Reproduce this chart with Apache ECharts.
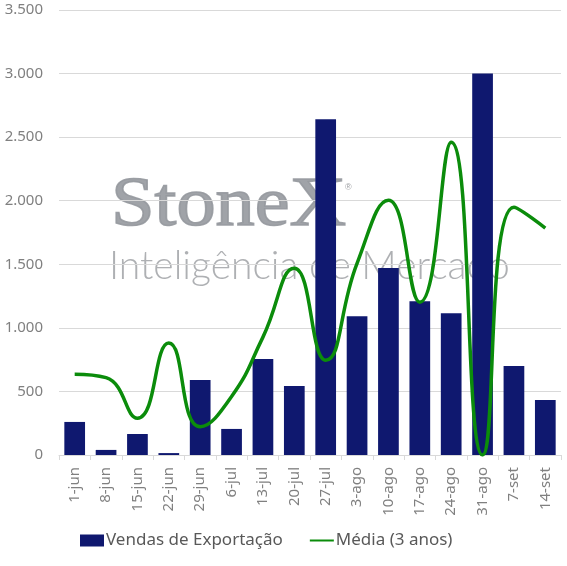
<!DOCTYPE html>
<html>
<head>
<meta charset="utf-8">
<script src="https://cdn.jsdelivr.net/npm/echarts@6/dist/echarts.min.js"></script>
<style>
  html, body { margin: 0; padding: 0; background: #fff; }
  #chart { width: 567px; height: 566px; }
</style>
</head>
<body>
<div id="chart"></div>
<script>
const categories = ["1-jun", "8-jun", "15-jun", "22-jun", "29-jun", "6-jul", "13-jul", "20-jul",
  "27-jul", "3-ago", "10-ago", "17-ago", "24-ago", "31-ago", "7-set", "14-set"];
const vendas = [260, 40, 165, 15, 590, 205, 755, 542, 2640, 1092, 1470, 1210, 1115, 3000, 700, 432];
const media = [636, 608, 290, 880, 222, 460, 927, 1469, 746, 1508, 2003, 1202, 2459, 0, 1948, 1785];
const yTicks = [0, 500, 1000, 1500, 2000, 2500, 3000, 3500];

const chart = echarts.init(document.getElementById("chart"));
const fmt = (v) => String(v).replace(/\B(?=(\d{3})+(?!\d))/g, ".");

chart.setOption({
  animation: false,
  textStyle: { fontFamily: "'Noto Sans', sans-serif" },
  grid: { left: 59, right: 6, top: 10, bottom: 111 },
  graphic: [
    {
      type: "text", x: 111, y: 172, scaleX: 1.12, z: -1,
      style: {
        text: "StoneX", font: "70px 'Liberation Serif', serif",
        fill: "rgba(150,153,158,0.9)", stroke: "rgba(150,153,158,0.9)", lineWidth: 1.6,
      },
    },
    {
      type: "text", left: 345, top: 183, z: -1,
      style: { text: "®", font: "9px sans-serif", fill: "#a0a2a6" },
    },
    {
      type: "text", left: 109, top: 247, z: -1,
      style: { text: "Inteligência de Mercado", font: "300 39px Lato, sans-serif", fill: "rgba(160,162,166,0.85)" },
    },
  ],
  legend: {
    bottom: 12,
    left: 75,
    itemGap: 26,
    itemWidth: 24,
    itemHeight: 12,
    textStyle: { color: "#595959", fontSize: 17, padding: [0, 0, 0, -3] },
    data: [
      { name: "Vendas de Exportação", icon: "rect" },
      { name: "Média (3 anos)", itemStyle: { opacity: 0 } },
    ],
  },
  xAxis: {
    type: "category",
    data: categories,
    boundaryGap: true,
    axisLine: { lineStyle: { color: "#d9d9d9" } },
    axisTick: { show: true, length: 5, lineStyle: { color: "#d9d9d9" } },
    axisLabel: { color: "#808080", fontSize: 15, rotate: 90, interval: 0, margin: 12 },
  },
  yAxis: {
    type: "value",
    min: 0,
    max: 3500,
    interval: 500,
    axisLine: { show: false },
    axisTick: { show: false },
    axisLabel: { color: "#808080", fontSize: 15, margin: 16, formatter: fmt },
    splitLine: { lineStyle: { color: "#d9d9d9", width: 1 } },
  },
  series: [
    {
      name: "Vendas de Exportação",
      type: "bar",
      data: vendas,
      barWidth: "66%",
      itemStyle: { color: "#0f186f" },
    },
    {
      name: "Média (3 anos)",
      type: "line",
      data: media,
      smooth: 0.5,
      showSymbol: false,
      symbol: "none",
      lineStyle: { width: 3.5, color: "#0b8c0b" },
      itemStyle: { color: "#0b8c0b" },
    },
  ],
});
</script>
</body>
</html>
